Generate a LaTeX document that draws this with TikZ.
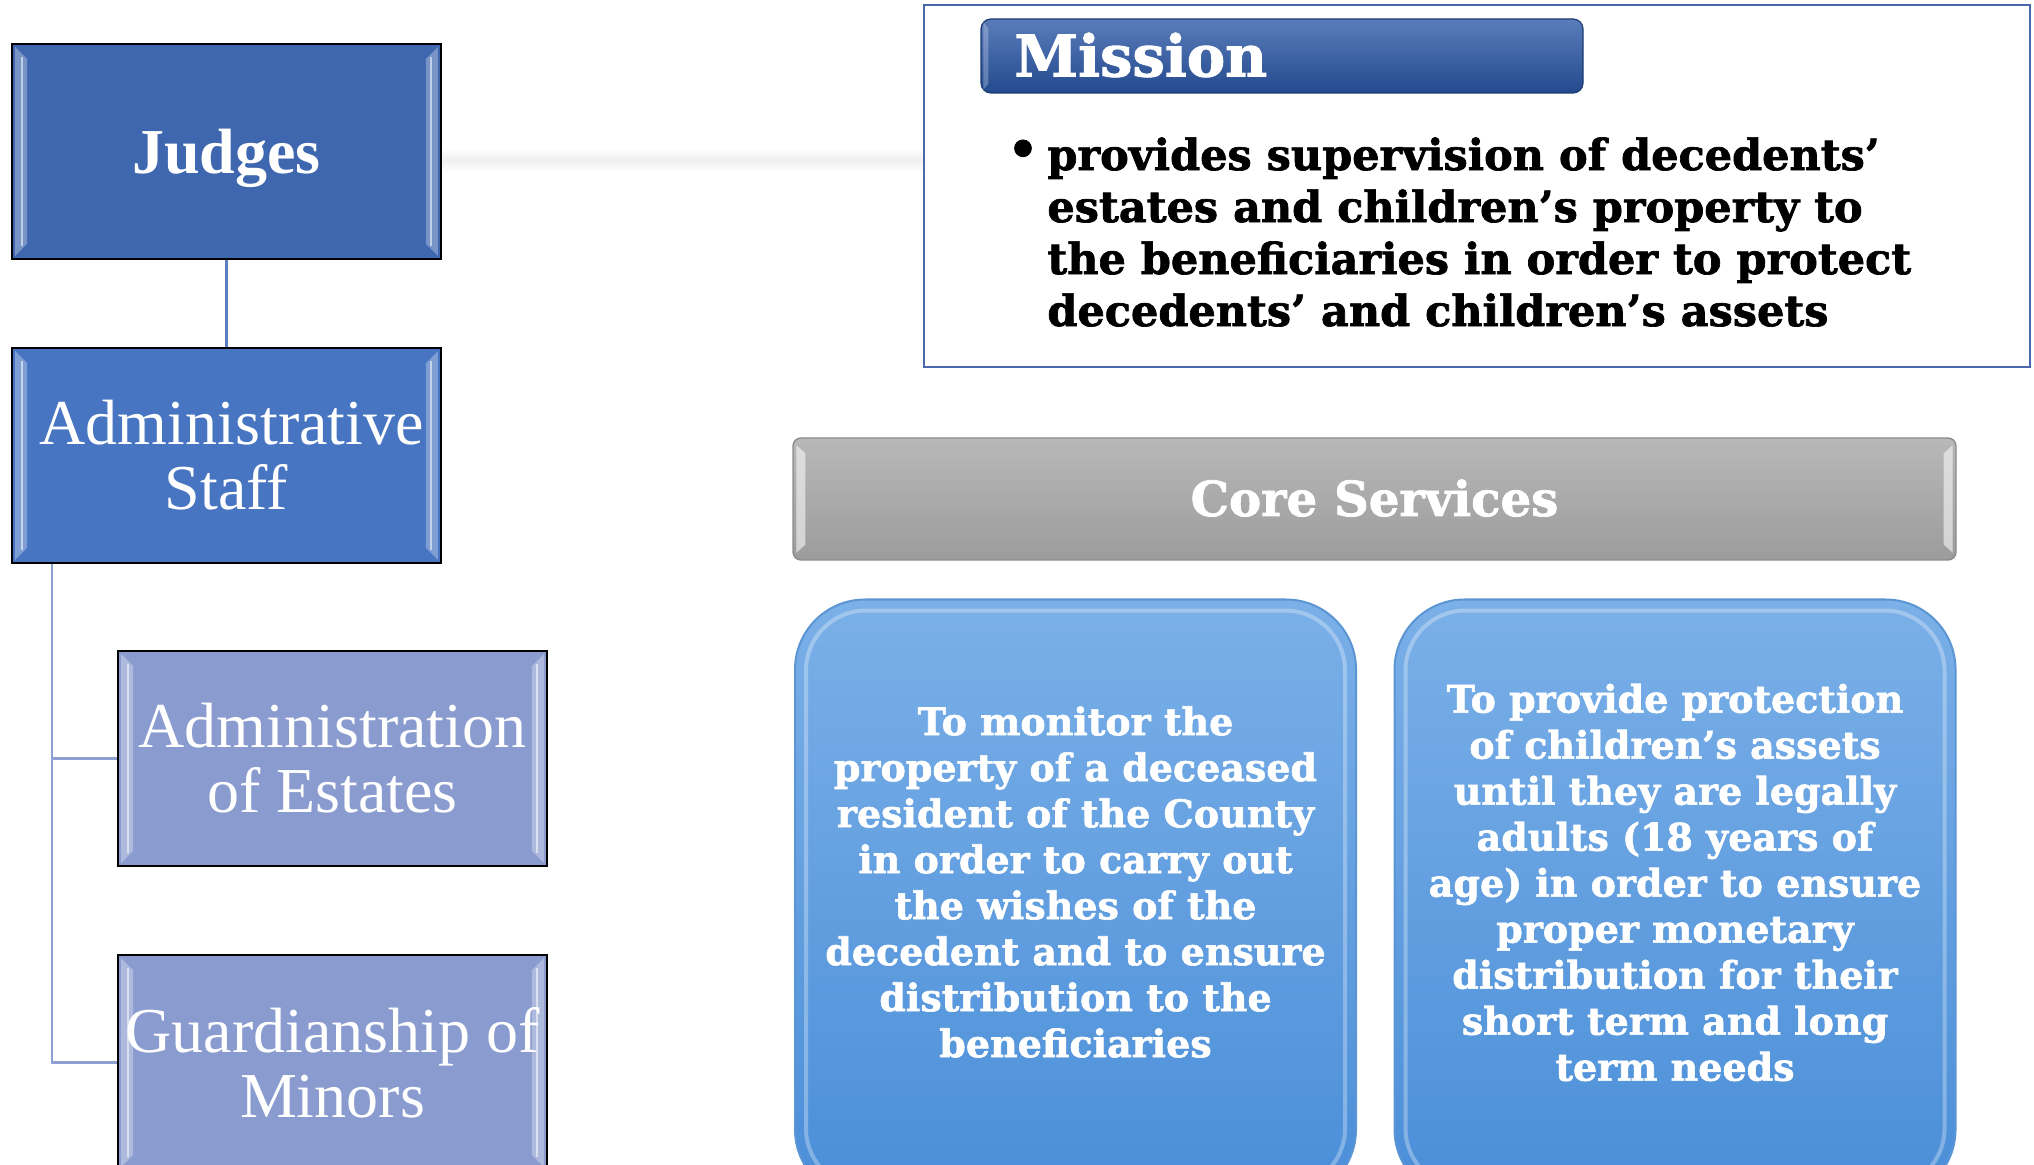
\documentclass[tikz,border=0pt]{standalone}
\usepackage{fontspec}
\setmainfont{Liberation Serif}
\newfontfamily\slab{DejaVu Serif}[BoldFeatures={FakeBold=1.6}]
\usetikzlibrary{calc}
\definecolor{judgeblue}{HTML}{3E67B0}
\definecolor{staffblue}{HTML}{4875C2}
\definecolor{childblue}{HTML}{8A9CCF}
\definecolor{linkblue}{HTML}{5B7DC2}
\definecolor{branchblue}{HTML}{8C9FD1}
\definecolor{missionborder}{HTML}{4A69AD}
\definecolor{headtop}{HTML}{5A7CBA}
\definecolor{headbot}{HTML}{234A8E}
\definecolor{graytop}{HTML}{B8B8B8}
\definecolor{graybot}{HTML}{9C9C9C}
\definecolor{cardtop}{HTML}{7BB0E8}
\definecolor{cardbot}{HTML}{4A8ED8}
\definecolor{cardedge}{HTML}{5C95D3}
\newcommand\bevelsides[1]{%
  \fill[white,opacity=0.30] ($(#1.north west)+(4,4)$) -- ($(#1.north west)+(16,16)$) -- ($(#1.south west)+(16,-16)$) -- ($(#1.south west)+(4,-4)$) -- cycle;
  \fill[white,opacity=0.30] ($(#1.north east)+(-4,4)$) -- ($(#1.north east)+(-16,16)$) -- ($(#1.south east)+(-16,-16)$) -- ($(#1.south east)+(-4,-4)$) -- cycle;
  \draw[white,opacity=0.55,line width=1.2pt] ($(#1.north west)+(11,14)$) -- ($(#1.south west)+(11,-14)$);
  \draw[white,opacity=0.55,line width=1.2pt] ($(#1.north east)+(-11,14)$) -- ($(#1.south east)+(-11,-14)$);
}
\tikzset{
  orgbox/.style={draw=black, line width=0.9pt, minimum width=214.5pt, minimum height=107.5pt,
    inner sep=0pt, align=center, text=white, font=\fontsize{32}{32.5}\selectfont},
  topbox/.style={orgbox, fill=judgeblue, font=\fontsize{32}{32.5}\selectfont\bfseries, text depth=0pt},
  staffbox/.style={orgbox, fill=staffblue},
  childbox/.style={orgbox, fill=childblue},
  card/.style={draw=cardedge, line width=1pt, rounded corners=35pt, top color=cardtop, bottom color=cardbot,
    minimum width=280.5pt, minimum height=300pt, inner sep=0pt},
  cardtext/.style={text=white, align=center, font=\slab\bfseries\fontsize{19}{23}\selectfont},
}
\begin{document}
\begin{tikzpicture}[x=0.5pt,y=-0.5pt]
\useasboundingbox (0,0) rectangle (2034,1165);
\clip (0,0) rectangle (2034,1165);
\fill[white] (0,0) rectangle (2034,1165);

% faint shadow band
\shade[top color=white, bottom color=white, middle color=black!6] (441,148) rectangle (924,172);

% org chart
\node[topbox] (judges) at (226.5,151.5) {Judges};
\node[staffbox] (staff) at (226.5,455.5) {\hspace*{5.2pt}Administrative\\Staff};
\node[childbox] (estates) at (332.5,758.5) {Administration\\of Estates};
\node[childbox] (guard) at (332.5,1062.5) {Guardianship of\\Minors};
\bevelsides{judges}
\bevelsides{staff}
\bevelsides{estates}
\bevelsides{guard}

\draw[linkblue, line width=1.5pt] (judges.south) -- (staff.north);
\draw[branchblue, line width=1.2pt] ($(staff.south west)+(41,0)$) |- (estates.west);
\draw[branchblue, line width=1.2pt] ($(staff.south west)+(41,0)$) |- (guard.west);

% mission
\node[draw=missionborder, line width=1pt, fill=white, minimum width=553pt, minimum height=181pt, inner sep=0pt] (missionbox) at (1477,186) {};
\node[draw=headbot!80!black, line width=0.6pt, rounded corners=5pt, top color=headtop, bottom color=headbot,
  minimum width=301pt, minimum height=37pt, inner sep=0pt] (missionhead) at (1282,56) {};
\fill[white,opacity=0.25] ($(missionhead.north west)+(3,4)$) -- ($(missionhead.north west)+(8,10)$) -- ($(missionhead.south west)+(8,-10)$) -- ($(missionhead.south west)+(3,-4)$) -- cycle;
\node[anchor=west, text=white, font=\slab\bfseries\fontsize{28.8}{28.8}\selectfont, inner sep=0pt] (missiontitle) at (1014,55) {Mission};
\node[anchor=center, font=\slab\bfseries\fontsize{24}{24}\selectfont, inner sep=0pt] (bullet) at (1023,153) {•};
\node[anchor=west, align=left, font=\slab\bfseries\fontsize{21.5}{26}\selectfont, inner sep=0pt] (missiontext) at (1047,232)
  {provides supervision of decedents’\\estates and children’s property to\\the beneficiaries in order to protect\\decedents’ and children’s assets};

% core services
\node[draw=black!45, line width=0.7pt, rounded corners=4pt, top color=graytop, bottom color=graybot,
  minimum width=581.5pt, minimum height=61pt, inner sep=0pt] (core) at (1374.5,499) {};
\fill[white,opacity=0.55] ($(core.north west)+(4,8)$) -- ($(core.north west)+(13,16)$) -- ($(core.south west)+(13,-16)$) -- ($(core.south west)+(4,-8)$) -- cycle;
\fill[white,opacity=0.55] ($(core.north east)+(-4,8)$) -- ($(core.north east)+(-13,16)$) -- ($(core.south east)+(-13,-16)$) -- ($(core.south east)+(-4,-8)$) -- cycle;
\node[text=white, font=\slab\bfseries\fontsize{24.1}{24.1}\selectfont, inner sep=0pt] (coretext) at (1374.5,498) {Core Services};

% cards
\node[card] (cardL) at (1075.5,899.5) {};
\node[card] (cardR) at (1675,899.5) {};
\draw[white, opacity=0.3, line width=2pt, rounded corners=30pt] ($(cardL.north west)+(12,12)$) rectangle ($(cardL.south east)+(-12,-12)$);
\draw[white, opacity=0.3, line width=2pt, rounded corners=30pt] ($(cardR.north west)+(12,12)$) rectangle ($(cardR.south east)+(-12,-12)$);
\node[cardtext] (txtL) at (1075.5,882) {To monitor the\\property of a deceased\\resident of the County\\in order to carry out\\the wishes of the\\decedent and to ensure\\distribution to the\\beneficiaries};
\node[cardtext] (txtR) at (1675,882.5) {To provide protection\\of children’s assets\\until they are legally\\adults (18 years of\\age) in order to ensure\\proper monetary\\distribution for their\\short term and long\\term needs};
\end{tikzpicture}
\end{document}
